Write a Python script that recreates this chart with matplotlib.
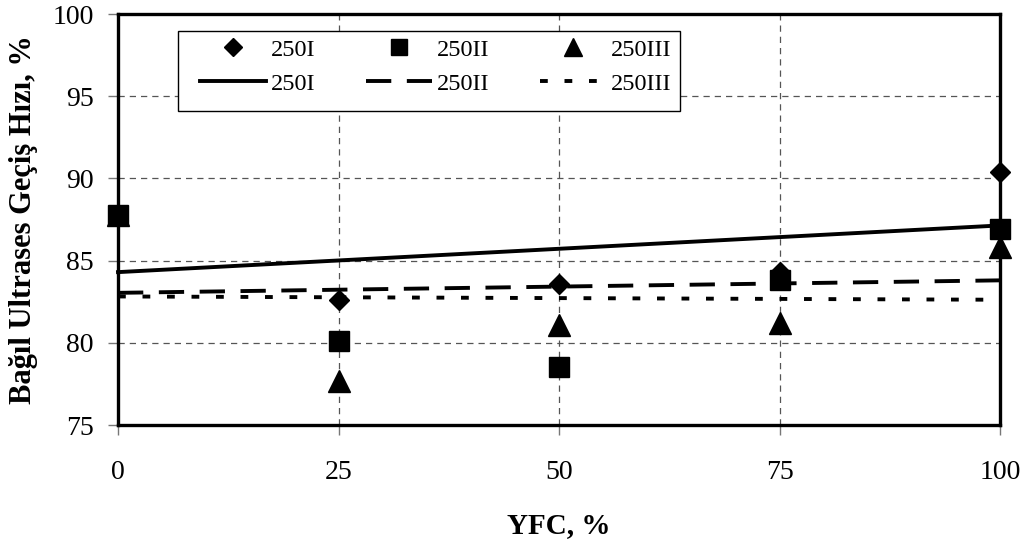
import numpy as np
import matplotlib.pyplot as plt
from matplotlib.lines import Line2D
from matplotlib.patches import Rectangle

plt.rcParams['font.family'] = ['Liberation Serif', 'DejaVu Serif']

# YFC oranı ve ölçülen bağıl ultrases geçiş hızları
yfc = [0, 25, 50, 75, 100]
s250_I = [87.7, 82.6, 83.6, 84.3, 90.4]
s250_II = [87.8, 80.1, 78.5, 83.8, 86.9]
s250_III = [87.8, 77.7, 81.1, 81.2, 85.8]

series_names = ['250I', '250II', '250III']
markers = ['D', 's', '^']
marker_sizes = [10.5, 14, 15.5]
marker_z = [4.0, 4.2, 4.1]
line_styles = ['-', (0, (6.5, 4)), (0, (2, 4.3))]
LW = 2.8

fig = plt.figure(figsize=(10.28, 5.46), dpi=100, facecolor='white')
ax = fig.add_axes([0.1148, 0.2216, 0.858, 0.7527])

x = np.array(yfc, dtype=float)
xx = np.array([0.0, 100.0])
for vals, mk, ms, mz, ls in zip([s250_I, s250_II, s250_III], markers,
                                marker_sizes, marker_z, line_styles):
    # doğrusal eğilim çizgisi
    k, b = np.polyfit(x, vals, 1)
    ax.plot(xx, k * xx + b, color='black', lw=LW, linestyle=ls,
            zorder=3, clip_on=False)
    ax.plot(x, vals, linestyle='none', marker=mk, ms=ms, color='black',
            zorder=mz, clip_on=False)

ax.set_xlim(0, 100)
ax.set_ylim(75, 100)
ax.set_xticks(yfc)
ax.set_yticks([75, 80, 85, 90, 95, 100])
ax.grid(True, color='#555555', linestyle=(0, (5, 4)), linewidth=0.9)
ax.set_axisbelow(True)

for sp in ax.spines.values():
    sp.set_linewidth(2.4)
    sp.set_color('black')
    sp.set_zorder(5)

ax.tick_params(direction='out', length=7.5, width=1, color='#777777',
               labelsize=20)
ax.tick_params(axis='y', pad=10)
ax.tick_params(axis='x', pad=18)

ax.set_xlabel('YFC, %', fontsize=21, fontweight='bold')
ax.xaxis.set_label_coords(0.5, -0.212)
ax.set_ylabel('Bağıl Ultrases Geçiş Hızı, %', fontsize=22, fontweight='bold')
ax.yaxis.set_label_coords(-0.1066, 0.5)
ax.yaxis.label.set_va('center')

# lejant çerçevesi
ax.add_patch(Rectangle((0.068, 0.764), 0.569, 0.1946, transform=ax.transAxes,
                       facecolor='white', edgecolor='black', lw=1.0,
                       zorder=4.5, clip_on=False))

# lejant: üst satır işaretler, alt satır eğilim çizgileri
leg_handles = []
leg_labels = []
for name, mk, ms, ls in zip(series_names, markers, marker_sizes, line_styles):
    leg_handles += [Line2D([], [], linestyle='none', marker=mk, ms=ms * 0.85,
                           color='black'),
                    Line2D([], [], color='black', lw=LW, linestyle=ls)]
    leg_labels += [name, name]

leg = ax.legend(leg_handles, leg_labels, ncol=3, loc='upper left',
                bbox_to_anchor=(0.093, 0.94), fontsize=17.5, frameon=False,
                handlelength=2.7, handletextpad=0.2, columnspacing=2.1,
                labelspacing=0.5, borderpad=0, borderaxespad=0)
leg.set_zorder(6)

fig.savefig('out.png', dpi=100, facecolor='white')
